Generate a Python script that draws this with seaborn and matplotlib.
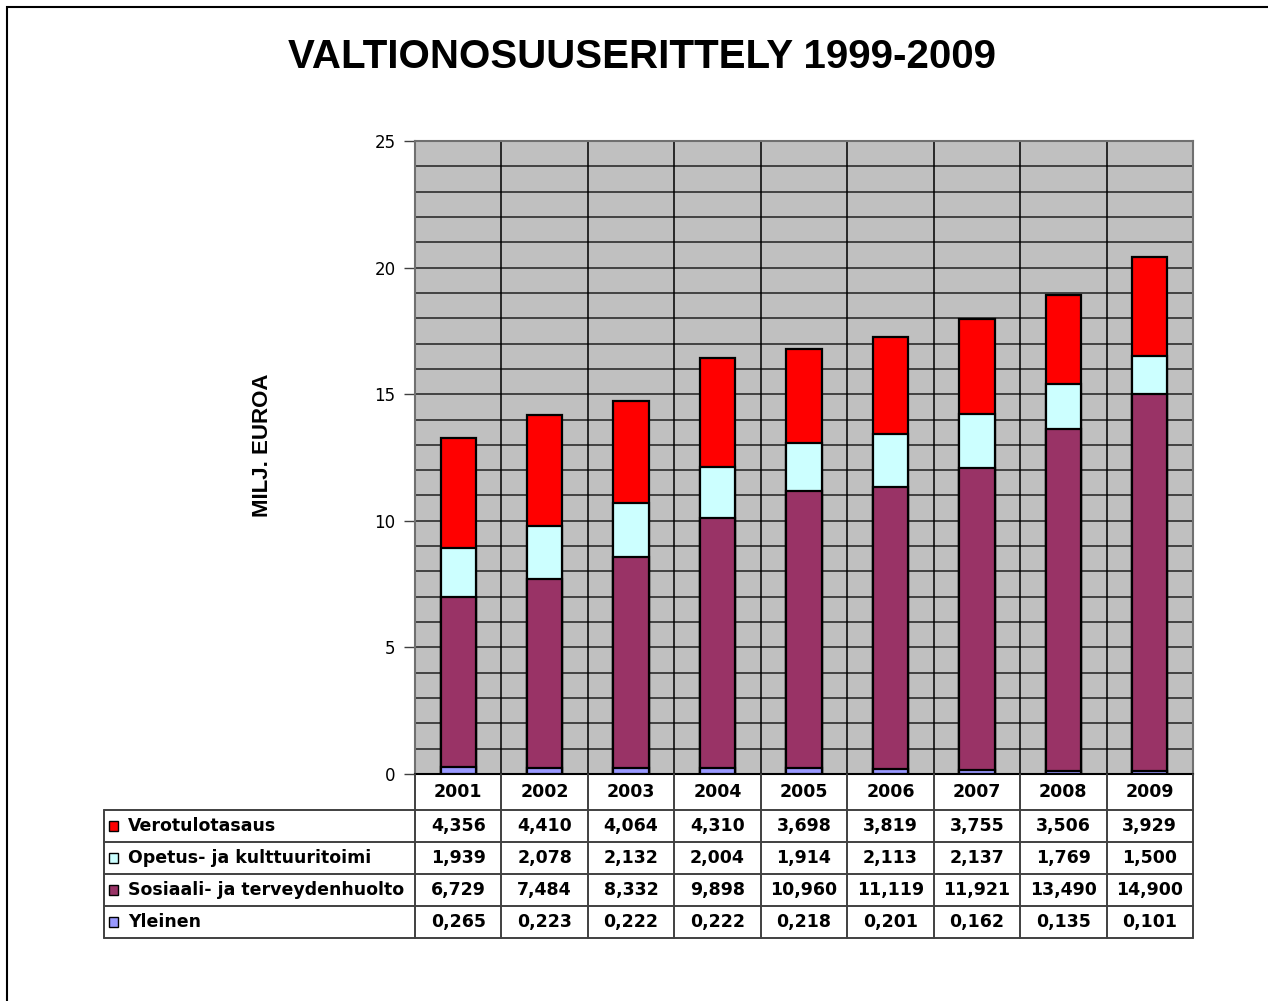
import matplotlib
matplotlib.use("Agg")
import matplotlib.pyplot as plt
import seaborn as sns
import pandas as pd
import numpy as np
from matplotlib.patches import Rectangle
from matplotlib.lines import Line2D
from matplotlib.ticker import MultipleLocator
import matplotlib.transforms as mtransforms

# ---------------- data ----------------
years = ["2001", "2002", "2003", "2004", "2005", "2006", "2007", "2008", "2009"]
yleinen = [0.265, 0.223, 0.222, 0.222, 0.218, 0.201, 0.162, 0.135, 0.101]
sosiaali = [6.729, 7.484, 8.332, 9.898, 10.960, 11.119, 11.921, 13.490, 14.900]
opetus = [1.939, 2.078, 2.132, 2.004, 1.914, 2.113, 2.137, 1.769, 1.500]
vero = [4.356, 4.410, 4.064, 4.310, 3.698, 3.819, 3.755, 3.506, 3.929]

series_names = ["Yleinen", "Sosiaali- ja terveydenhuolto", "Opetus- ja kulttuuritoimi", "Verotulotasaus"]
series_values = [yleinen, sosiaali, opetus, vero]
series_colors = ["#9999FF", "#993366", "#CCFFFF", "#FF0000"]

title = "VALTIONOSUUSERITTELY 1999-2009"
ylabel = "MILJ. EUROA"

# ---------------- figure ----------------
sns.set_style("white")
plt.rcParams["font.family"] = ["DejaVu Sans"]
plt.rcParams["text.color"] = "black"
plt.rcParams["axes.labelcolor"] = "black"
plt.rcParams["xtick.color"] = "black"
plt.rcParams["ytick.color"] = "black"

W, H = 1268, 1001
fig = plt.figure(figsize=(W / 100, H / 100), dpi=100)


def fx(px):
    return px / W


def fy(py):
    return 1 - py / H


ax_l, ax_r, ax_t, ax_b = 415, 1193, 141, 774
ax = fig.add_axes([fx(ax_l), fy(ax_b), fx(ax_r) - fx(ax_l), fy(ax_t) - fy(ax_b)])
ax.set_facecolor("#C0C0C0")

# stacked bars: draw cumulative totals from top series downward
cum = np.zeros(len(years))
cums = []
for vals in series_values:
    cum = cum + np.array(vals)
    cums.append(cum.copy())
for i in reversed(range(len(series_values))):
    d = pd.DataFrame({"year": years, "value": cums[i]})
    sns.barplot(data=d, x="year", y="value", order=years, color=series_colors[i],
                saturation=1, width=0.41, edgecolor="black", linewidth=1.6,
                ax=ax, zorder=3)

ax.set_xlim(-0.5, len(years) - 0.5)
ax.set_ylim(0, 25)
ax.yaxis.set_major_locator(MultipleLocator(5))
ax.yaxis.set_minor_locator(MultipleLocator(1))
ax.grid(True, which="both", axis="y", color="#202020", linewidth=1.1, zorder=0)
for k in range(1, len(years)):
    ax.axvline(k - 0.5, color="black", linewidth=1.1, zorder=1)
ax.set_axisbelow(True)
ax.set_xlabel("")
ax.set_ylabel("")
ax.set_xticks([])
ax.tick_params(axis="y", which="major", length=8, width=1, color="#404040",
               labelsize=12, labelcolor="black", pad=6, left=True)
ax.tick_params(axis="y", which="minor", length=0)
for s in ["left", "top", "right"]:
    ax.spines[s].set_color("#707070")
    ax.spines[s].set_linewidth(1.5)
ax.spines["bottom"].set_color("black")
ax.spines["bottom"].set_linewidth(1.5)

# title / ylabel
fig.text(fx(642), fy(57), title, ha="center", va="center", fontsize=29,
         fontweight="bold", color="black", family=["Liberation Sans", "DejaVu Sans"])
fig.text(fx(263), fy(445), ylabel, ha="center", va="center", fontsize=16,
         fontweight="bold", color="black", rotation=90,
         family=["Liberation Sans", "DejaVu Sans"])

# outer frame (left / top edges visible)
fig.patches.append(Rectangle((fx(7), fy(H + 20)), 2, fy(7) - fy(H + 20),
                             transform=fig.transFigure, fill=False,
                             edgecolor="black", linewidth=1.5))

# ---------------- data table ----------------
bt = mtransforms.blended_transform_factory(ax.transData, fig.transFigure)
tfont = dict(fontsize=12.5, fontweight="bold", color="black")
line_c = "#404040"
hdr_top, hdr_bot = 774, 810
row_h = 32
table_left = 104
n_rows = len(series_names)
table_bottom = hdr_bot + n_rows * row_h

# header years
for i, y in enumerate(years):
    ax.text(i, fy((hdr_top + hdr_bot) / 2), y, transform=bt, ha="center",
            va="center", **tfont, clip_on=False)

# vertical lines
for k in range(len(years) + 1):
    fig.add_artist(Line2D([k - 0.5, k - 0.5], [fy(hdr_top), fy(table_bottom)],
                          transform=bt, color=line_c, linewidth=1.4))
fig.add_artist(Line2D([fx(table_left), fx(table_left)], [fy(hdr_bot), fy(table_bottom)],
                      transform=fig.transFigure, color=line_c, linewidth=1.4))
# horizontal lines
for r in range(n_rows + 1):
    yy = fy(hdr_bot + r * row_h)
    fig.add_artist(Line2D([fx(table_left), fx(ax_r)], [yy, yy],
                          transform=fig.transFigure, color=line_c, linewidth=1.4))

# rows (top-down: Verotulotasaus ... Yleinen)
for r, si in enumerate(reversed(range(n_rows))):
    yc = hdr_bot + r * row_h + row_h / 2
    fig.patches.append(Rectangle((fx(109), fy(yc + 5)), fx(9), 10 / H,
                                 transform=fig.transFigure,
                                 facecolor=series_colors[si], edgecolor="black",
                                 linewidth=1.0))
    fig.text(fx(128), fy(yc), series_names[si], ha="left", va="center", **tfont)
    for i, v in enumerate(series_values[si]):
        ax.text(i, fy(yc), f"{v:.3f}".replace(".", ","), transform=bt,
                ha="center", va="center", **tfont, clip_on=False)

fig.savefig("out.png", dpi=100, facecolor="white")
